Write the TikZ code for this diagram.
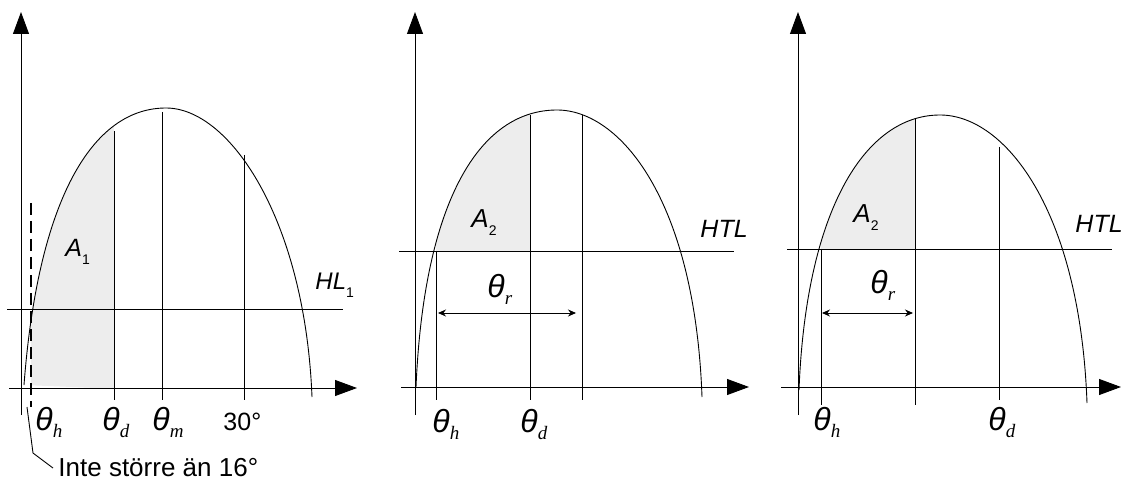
\documentclass[tikz,border=0pt]{standalone}
\usepackage{fontspec}
\setmainfont{Liberation Sans}
\newfontfamily\subserif{Liberation Serif}
\usetikzlibrary{arrows.meta}

\newcommand{\thlab}[1]{{\fontsize{32}{32}\selectfont\itshape θ}\raisebox{-7pt}{\fontsize{19}{19}\selectfont\subserif\itshape #1}}
\newcommand{\itlab}[3]{{\fontsize{#1}{#1}\selectfont\itshape #2}\raisebox{-8pt}{\fontsize{14}{14}\selectfont #3}}

% Curves of the three panels.
\newcommand{\curveone}{(24,385) .. controls (38,200) and (92,108) .. (166,108) .. controls (230,108) and (305,220) .. (312,397)}
\newcommand{\curvetwo}{(416,387) .. controls (424,200) and (480,110) .. (557,110) .. controls (620,110) and (695,200) .. (702,397)}
\newcommand{\curvethree}{(799,390) .. controls (806,210) and (865,115) .. (940,115) .. controls (1005,115) and (1080,210) .. (1087,403)}

\begin{document}
\begin{tikzpicture}[x=1pt,y=-1pt,line width=0.9pt,
  axis/.style={-{Triangle[length=22pt,width=16pt]}},
  span/.style={{Stealth[length=8pt,width=7pt]}-{Stealth[length=8pt,width=7pt]}},
  lab/.style={inner sep=0pt,anchor=base west},
  areafill/.style={fill=black!7}]
  \useasboundingbox (0,0) rectangle (1121,486);

  % Shaded areas under the curves.
  \begin{scope}
  \clip \curveone -- cycle;
  \fill[areafill] (31,388) rectangle (114,90);
  \end{scope}
  \begin{scope}
  \clip \curvetwo -- cycle;
  \fill[areafill] (436,251) rectangle (530,90);
  \end{scope}
  \begin{scope}
  \clip \curvethree -- cycle;
  \fill[areafill] (821,249) rectangle (915,90);
  \end{scope}

  % Panel 1
  \draw[axis] (21,415) -- (21,12);
  \draw[axis] (9,388) -- (357,388);
  \draw \curveone;
  \draw (7,309) -- (343,309);
  \draw[dash pattern=on 12pt off 6pt,line width=1.1pt] (31,203) -- (31,407);
  \draw (114,131) -- (114,400);
  \draw (162,112) -- (162,400);
  \draw (244,155) -- (244,400);
  \draw (27,407) -- (33,453) -- (53,468);
  \node[lab] (thh1) at (35,430) {\thlab{h}};
  \node[lab] (thd1) at (102,430) {\thlab{d}};
  \node[lab] (thm1) at (152,430) {\thlab{m}};
  \node[lab] (deg1) at (223,430) {\fontsize{25}{25}\selectfont 30°};
  \node[lab] (area1) at (65,257) {\itlab{25}{A}{1}};
  \node[lab] (hl1) at (315,290) {\itlab{24}{HL}{1}};
  \node[lab] (note1) at (58,476) {\fontsize{26}{26}\selectfont Inte större än 16°};

  % Panel 2
  \draw[axis] (415,415) -- (415,12);
  \draw[axis] (401,387) -- (749,387);
  \draw \curvetwo;
  \draw (399,251) -- (734,251);
  \draw (436,251) -- (436,400);
  \draw (530,115) -- (530,400);
  \draw (582,115) -- (582,400);
  \draw[span] (438,313) -- (576,313);
  \node[lab] (thh2) at (432,432) {\thlab{h}};
  \node[lab] (thd2) at (520,432) {\thlab{d}};
  \node[lab] (thr2) at (487,297) {\thlab{r}};
  \node[lab] (area2) at (471,228) {\itlab{26}{A}{2}};
  \node[lab] (htl2) at (700,238) {\itlab{25}{HTL}{}};

  % Panel 3
  \draw[axis] (798,415) -- (798,12);
  \draw[axis] (781,387) -- (1121,387);
  \draw \curvethree;
  \draw (787,249) -- (1112,249);
  \draw (821,249) -- (821,405);
  \draw (915,119) -- (915,405);
  \draw (999,147) -- (999,400);
  \draw[span] (822,313) -- (913,313);
  \node[lab] (thh3) at (813,430) {\thlab{h}};
  \node[lab] (thd3) at (988,430) {\thlab{d}};
  \node[lab] (thr3) at (870,293) {\thlab{r}};
  \node[lab] (area3) at (853,223) {\itlab{26}{A}{2}};
  \node[lab] (htl3) at (1075,233) {\itlab{25}{HTL}{}};
\end{tikzpicture}
\end{document}
